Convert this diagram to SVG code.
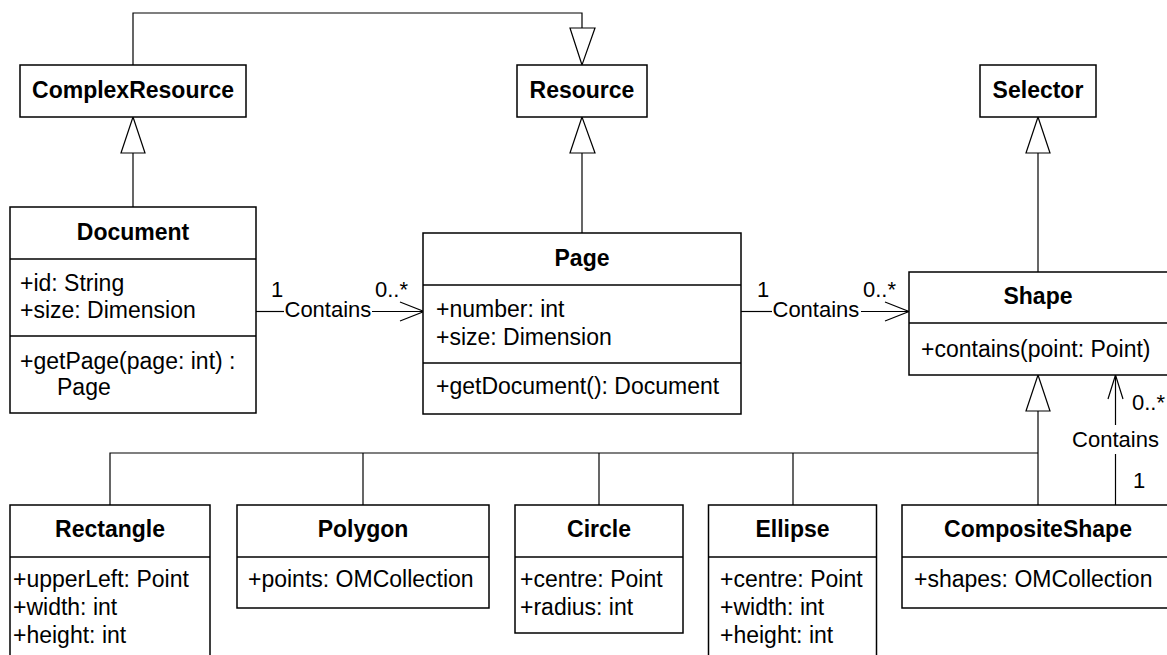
<svg xmlns="http://www.w3.org/2000/svg" width="1167" height="655" viewBox="0 0 1167 655">
<style>
.box{fill:#fff;stroke:#000;stroke-width:1.5}
.sep{stroke:#000;stroke-width:1.5}
.t{font-family:"Liberation Sans",Arial,sans-serif;font-size:23px;fill:#000}
.b{font-weight:bold;text-anchor:middle}
.lbl{font-family:"Liberation Sans",Arial,sans-serif;font-size:22px;fill:#000}
.ln{fill:none;stroke:#000;stroke-width:1.2}
.gen{fill:#fff;stroke:#000;stroke-width:1.2}
</style>
<rect width="1167" height="655" fill="#fff"/>
<g id="connectors">
  <!-- ComplexResource -> Resource -->
  <polyline class="ln" points="133,65 133,13 582,13 582,28"/>
  <polygon class="gen" points="582,65 570,28 595,28"/>
  <!-- Document -> ComplexResource -->
  <line class="ln" x1="133" y1="153" x2="133" y2="207"/>
  <polygon class="gen" points="133,117 121,153 145,153"/>
  <!-- Page -> Resource -->
  <line class="ln" x1="582" y1="153" x2="582" y2="233"/>
  <polygon class="gen" points="582,117 570,153 595,153"/>
  <!-- Shape -> Selector -->
  <line class="ln" x1="1038" y1="153" x2="1038" y2="272"/>
  <polygon class="gen" points="1038,117 1026,153 1050,153"/>
  <!-- subclasses -> Shape -->
  <line class="ln" x1="1038" y1="411" x2="1038" y2="505"/>
  <polyline class="ln" points="110,505 110,453 1038,453"/>
  <line class="ln" x1="363" y1="453" x2="363" y2="505"/>
  <line class="ln" x1="599" y1="453" x2="599" y2="505"/>
  <line class="ln" x1="793" y1="453" x2="793" y2="505"/>
  <polygon class="gen" points="1038,375 1026,411 1050,411"/>
  <!-- Document Contains Page -->
  <line class="ln" x1="256" y1="311.5" x2="284" y2="311.5"/>
  <line class="ln" x1="372" y1="311.5" x2="424" y2="311.5"/>
  <polyline class="ln" points="400,302 424,311.5 400,321"/>
  <text class="lbl" x="271" y="297">1</text>
  <text class="lbl" x="284.5" y="317">Contains</text>
  <text class="lbl" x="375" y="297">0..*</text>
  <!-- Page Contains Shape -->
  <line class="ln" x1="741" y1="311.5" x2="772" y2="311.5"/>
  <line class="ln" x1="861" y1="311.5" x2="909" y2="311.5"/>
  <polyline class="ln" points="885,302 909,311.5 885,321"/>
  <text class="lbl" x="757" y="297">1</text>
  <text class="lbl" x="772.5" y="317">Contains</text>
  <text class="lbl" x="863" y="297">0..*</text>
  <!-- CompositeShape Contains Shape -->
  <line class="ln" x1="1115.5" y1="505" x2="1115.5" y2="454"/>
  <line class="ln" x1="1115.5" y1="425" x2="1115.5" y2="375"/>
  <polyline class="ln" points="1108,399 1115.5,375 1123,399"/>
  <text class="lbl" x="1132" y="410">0..*</text>
  <text class="lbl" x="1115.5" y="447" text-anchor="middle">Contains</text>
  <text class="lbl" x="1133" y="488">1</text>
</g>
<g id="ComplexResource">
  <rect class="box" x="20" y="65" width="226" height="52"/>
  <text class="t b" x="133" y="98">ComplexResource</text>
</g>
<g id="Resource">
  <rect class="box" x="517" y="65" width="130" height="52"/>
  <text class="t b" x="582" y="98">Resource</text>
</g>
<g id="Selector">
  <rect class="box" x="980" y="65" width="116" height="52"/>
  <text class="t b" x="1038" y="98">Selector</text>
</g>
<g id="Document">
  <rect class="box" x="10" y="207" width="246" height="206"/>
  <line class="sep" x1="10" y1="259" x2="256" y2="259"/>
  <line class="sep" x1="10" y1="336" x2="256" y2="336"/>
  <text class="t b" x="133" y="240">Document</text>
  <text class="t" x="20" y="291">+id: String</text>
  <text class="t" x="20" y="318">+size: Dimension</text>
  <text class="t" x="20" y="369">+getPage(page: int) :</text>
  <text class="t" x="57" y="395">Page</text>
</g>
<g id="Page">
  <rect class="box" x="423" y="233" width="318" height="181"/>
  <line class="sep" x1="423" y1="285" x2="741" y2="285"/>
  <line class="sep" x1="423" y1="363" x2="741" y2="363"/>
  <text class="t b" x="582" y="266">Page</text>
  <text class="t" x="436" y="317">+number: int</text>
  <text class="t" x="436" y="345">+size: Dimension</text>
  <text class="t" x="436" y="394">+getDocument(): Document</text>
</g>
<g id="Shape">
  <rect class="box" x="909" y="272" width="262" height="103"/>
  <line class="sep" x1="909" y1="323" x2="1171" y2="323"/>
  <text class="t b" x="1038" y="304">Shape</text>
  <text class="t" x="921" y="357">+contains(point: Point)</text>
</g>
<g id="Rectangle">
  <rect class="box" x="10" y="505" width="200" height="160"/>
  <line class="sep" x1="10" y1="557" x2="210" y2="557"/>
  <text class="t b" x="110" y="537">Rectangle</text>
  <text class="t" x="13" y="587">+upperLeft: Point</text>
  <text class="t" x="13" y="615">+width: int</text>
  <text class="t" x="13" y="643">+height: int</text>
</g>
<g id="Polygon">
  <rect class="box" x="237" y="505" width="252" height="103"/>
  <line class="sep" x1="237" y1="557" x2="489" y2="557"/>
  <text class="t b" x="363" y="537">Polygon</text>
  <text class="t" x="248" y="587">+points: OMCollection</text>
</g>
<g id="Circle">
  <rect class="box" x="515" y="505" width="168" height="128"/>
  <line class="sep" x1="515" y1="557" x2="683" y2="557"/>
  <text class="t b" x="599" y="537">Circle</text>
  <text class="t" x="520" y="587">+centre: Point</text>
  <text class="t" x="520" y="615">+radius: int</text>
</g>
<g id="Ellipse">
  <rect class="box" x="708.5" y="505" width="168" height="160"/>
  <line class="sep" x1="708.5" y1="557" x2="876.5" y2="557"/>
  <text class="t b" x="792.5" y="537">Ellipse</text>
  <text class="t" x="720" y="587">+centre: Point</text>
  <text class="t" x="720" y="615">+width: int</text>
  <text class="t" x="720" y="643">+height: int</text>
</g>
<g id="CompositeShape">
  <rect class="box" x="902" y="505" width="269" height="103"/>
  <line class="sep" x1="902" y1="557" x2="1171" y2="557"/>
  <text class="t b" x="1038" y="537">CompositeShape</text>
  <text class="t" x="914" y="587">+shapes: OMCollection</text>
</g>
</svg>
